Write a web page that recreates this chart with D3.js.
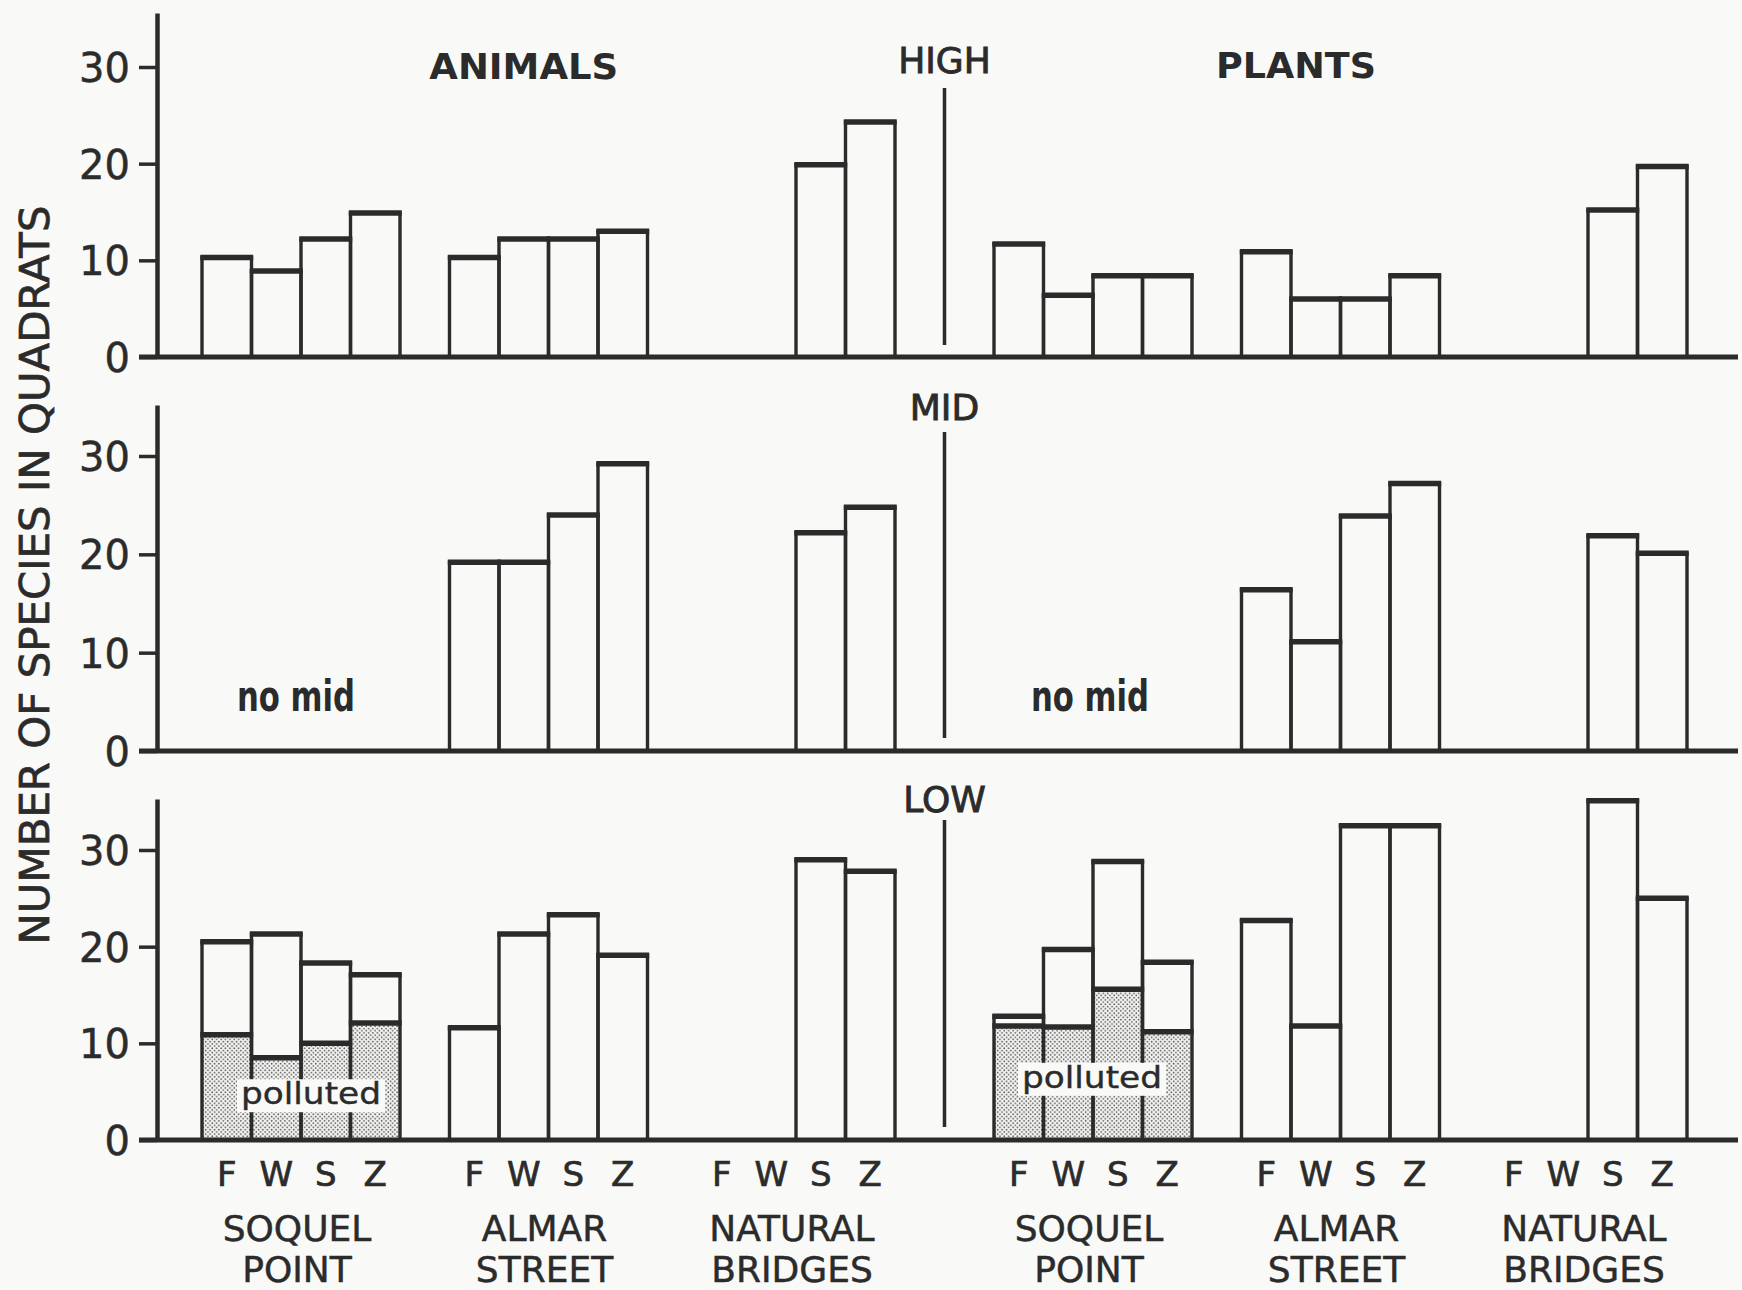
<!DOCTYPE html>
<html>
<head>
<meta charset="utf-8">
<script src="https://d3js.org/d3.v7.min.js"></script>
<style>
  body { margin: 0; background: #f9f9f7; }
  svg text { font-family: "DejaVu Sans", sans-serif; fill: #2b2b2b; }
</style>
</head>
<body>
<div id="chart"></div>
<script>
// categories
var seasons = ["F", "W", "S", "Z"];
var sites = [["SOQUEL", "POINT"], ["ALMAR", "STREET"], ["NATURAL", "BRIDGES"]];
var groups = ["ANIMALS", "PLANTS"];
var zones = ["HIGH", "MID", "LOW"];
var yTicks = [0, 10, 20, 30];

// number of species, [site][season], null = no bar
var animalsHigh = [[10.3, 8.9, 12.2, 14.9], [10.3, 12.2, 12.2, 13.0], [null, null, 19.9, 24.3]];
var plantsHigh  = [[11.7, 6.4, 8.4, 8.4], [10.9, 6.0, 6.0, 8.4], [null, null, 15.2, 19.7]];
var animalsMid  = [[null, null, null, null], [19.2, 19.2, 24.0, 29.2], [null, null, 22.2, 24.8]];
var plantsMid   = [[null, null, null, null], [16.4, 11.1, 23.9, 27.2], [null, null, 21.9, 20.1]];
var animalsLow  = [[20.5, 21.3, 18.3, 17.1], [11.6, 21.3, 23.3, 19.1], [null, null, 29.0, 27.8]];
var plantsLow   = [[12.8, 19.7, 28.8, 18.4], [22.7, 11.8, 32.5, 32.5], [null, null, 35.1, 25.0]];
// polluted part of the Soquel Point low zone bars
var animalsLowPolluted = [10.9, 8.5, 10.0, 12.1];
var plantsLowPolluted  = [11.8, 11.7, 15.6, 11.2];

var series = {
  HIGH: [animalsHigh, plantsHigh],
  MID: [animalsMid, plantsMid],
  LOW: [animalsLow, plantsLow]
};
var pollutedSeries = [animalsLowPolluted, plantsLowPolluted];

// layout of the three panels
var panels = [
  {zone: "HIGH", base: 357, top30: 67, axisTop: 13, labelY: 73, divider: [88, 345]},
  {zone: "MID", base: 751, top30: 456, axisTop: 405, labelY: 420, divider: [432, 738]},
  {zone: "LOW", base: 1140, top30: 850, axisTop: 799, labelY: 812, divider: [820, 1127]}
];

var width = 1742, height = 1290, ink = "#2b2b2b", paper = "#f9f9f7";

var svg = d3.select("#chart")
  .append("svg")
    .attr("width", width)
    .attr("height", height);

// stipple pattern for the polluted part
var pat = svg.append("defs").append("pattern")
  .attr("id", "stipple")
  .attr("width", 4.4).attr("height", 4.4)
  .attr("patternUnits", "userSpaceOnUse");
pat.append("rect").attr("width", 4.4).attr("height", 4.4).attr("fill", "#f4f4f2");
pat.append("circle").attr("cx", 1.1).attr("cy", 1.1).attr("r", 0.85).attr("fill", "#555");
pat.append("circle").attr("cx", 3.3).attr("cy", 3.3).attr("r", 0.85).attr("fill", "#555");

// x: one slot per bar, a gap slot between sites, two between animals and plants
var x = d3.scaleLinear()
  .domain([0, 30])
  .range([202, 1687]);
var slotOf = function (g, s, k) { return g * 16 + s * 5 + k; };

panels.forEach(function (p) {
  var y = d3.scaleLinear()
    .domain([0, 30])
    .range([p.base, p.top30]);
  var g = svg.append("g");

  // Add Y axis
  var yAxisScale = y.copy().domain([0, y.invert(p.axisTop)]).range([p.base, p.axisTop]);
  var ax = g.append("g")
    .attr("transform", "translate(157,0)")
    .call(d3.axisLeft(yAxisScale).tickValues(yTicks).tickSize(18).tickSizeOuter(0).tickPadding(9));
  ax.select(".domain").attr("stroke", ink).attr("stroke-width", 4.5);
  ax.selectAll(".tick line").attr("stroke", ink).attr("stroke-width", 3.5);
  ax.selectAll(".tick text")
    .attr("font-size", 40)
    .attr("font-family", "DejaVu Sans")
    .attr("fill", ink)
    .attr("stroke", ink).attr("stroke-width", 0.5)
    .attr("dy", "0.36em");

  // bars
  var rows = [];
  series[p.zone].forEach(function (bySite, gi) {
    bySite.forEach(function (vals, si) {
      vals.forEach(function (v, k) {
        if (v == null) return;
        var pol = (p.zone === "LOW" && si === 0) ? pollutedSeries[gi][k] : null;
        rows.push({slot: slotOf(gi, si, k), total: v, polluted: pol});
      });
    });
  });

  g.selectAll(".pol")
    .data(rows.filter(function (d) { return d.polluted != null; }))
    .enter().append("rect")
      .attr("x", function (d) { return x(d.slot); })
      .attr("width", function (d) { return x(d.slot + 1) - x(d.slot); })
      .attr("y", function (d) { return y(d.polluted); })
      .attr("height", function (d) { return y(0) - y(d.polluted); })
      .attr("fill", "url(#stipple)");

  g.selectAll(".bar")
    .data(rows)
    .enter().append("rect")
      .attr("x", function (d) { return x(d.slot); })
      .attr("width", function (d) { return x(d.slot + 1) - x(d.slot); })
      .attr("y", function (d) { return y(d.total); })
      .attr("height", function (d) { return y(0) - y(d.total); })
      .attr("fill", "none")
      .attr("stroke", ink)
      .attr("stroke-width", 3.4);

  // thick top edges
  var tops = [];
  rows.forEach(function (d) {
    tops.push({slot: d.slot, v: d.total});
    if (d.polluted != null) tops.push({slot: d.slot, v: d.polluted});
  });
  g.selectAll(".top")
    .data(tops)
    .enter().append("line")
      .attr("x1", function (d) { return x(d.slot) - 1.7; })
      .attr("x2", function (d) { return x(d.slot + 1) + 1.7; })
      .attr("y1", function (d) { return y(d.v); })
      .attr("y2", function (d) { return y(d.v); })
      .attr("stroke", ink)
      .attr("stroke-width", 5.5);

  // baseline
  g.append("line")
    .attr("x1", 139).attr("x2", 1738)
    .attr("y1", y(0)).attr("y2", y(0))
    .attr("stroke", ink).attr("stroke-width", 5);

  // divider between animals and plants
  g.append("line")
    .attr("x1", x(15)).attr("x2", x(15))
    .attr("y1", p.divider[0]).attr("y2", p.divider[1])
    .attr("stroke", ink).attr("stroke-width", 3.5);

  g.append("text")
    .attr("x", x(15)).attr("y", p.labelY)
    .attr("text-anchor", "middle")
    .attr("font-size", 36)
    .attr("stroke", ink).attr("stroke-width", 0.9)
    .text(p.zone);

  if (p.zone === "MID") {
    [296, 1090].forEach(function (cx) {
      g.append("text")
        .attr("x", cx - 59).attr("y", y(4.1))
        .attr("font-size", 42).attr("font-weight", "bold")
        .attr("textLength", 118).attr("lengthAdjust", "spacingAndGlyphs")
        .text("no mid");
    });
  }

  if (p.zone === "LOW") {
    [[311, 3.7], [1092, 5.4]].forEach(function (c) {
      g.append("rect")
        .attr("x", c[0] - 74).attr("y", y(c[1]) - 25)
        .attr("width", 148).attr("height", 33)
        .attr("fill", paper);
      g.append("text")
        .attr("x", c[0] - 70).attr("y", y(c[1]))
        .attr("font-size", 31)
        .attr("stroke", ink).attr("stroke-width", 0.4)
        .attr("textLength", 140).attr("lengthAdjust", "spacingAndGlyphs")
        .text("polluted");
    });
  }
});

// group titles
svg.append("text")
  .attr("x", x(6.5)).attr("y", 79)
  .attr("text-anchor", "middle")
  .attr("font-size", 36).attr("font-weight", "bold")
  .attr("textLength", 189).attr("lengthAdjust", "spacingAndGlyphs")
  .text(groups[0]);
svg.append("text")
  .attr("x", x(22.1)).attr("y", 78)
  .attr("text-anchor", "middle")
  .attr("font-size", 36).attr("font-weight", "bold")
  .attr("textLength", 160).attr("lengthAdjust", "spacingAndGlyphs")
  .text(groups[1]);

// season letters and site names
groups.forEach(function (gName, gi) {
  sites.forEach(function (site, si) {
    seasons.forEach(function (s, k) {
      svg.append("text")
        .attr("x", x(slotOf(gi, si, k) + 0.5))
        .attr("y", 1186)
        .attr("text-anchor", "middle")
        .attr("font-size", 34)
        .attr("stroke", ink).attr("stroke-width", 0.7)
        .text(s);
    });
    site.forEach(function (line, li) {
      svg.append("text")
        .attr("x", x(slotOf(gi, si, 2)) - 4)
        .attr("y", 1241 + li * 41)
        .attr("text-anchor", "middle")
        .attr("font-size", 36)
        .attr("stroke", ink).attr("stroke-width", 0.5)
        .text(line);
    });
  });
});

// y axis title
svg.append("text")
  .attr("transform", "translate(49,575) rotate(-90)")
  .attr("text-anchor", "middle")
  .attr("font-size", 40)
  .attr("stroke", ink).attr("stroke-width", 0.7)
  .attr("textLength", 739).attr("lengthAdjust", "spacingAndGlyphs")
  .text("NUMBER OF SPECIES IN QUADRATS");
</script>
</body>
</html>
